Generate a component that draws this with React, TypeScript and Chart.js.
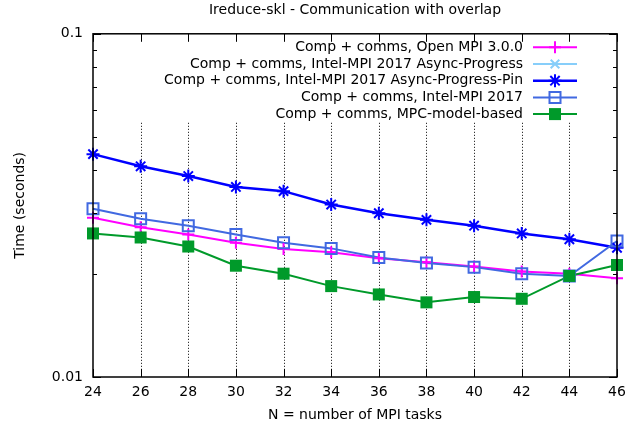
import React, { useEffect, useRef } from "react";
import { Chart, registerables } from "chart.js";

Chart.register(...registerables);

const tasks = [24, 26, 28, 30, 32, 34, 36, 38, 40, 42, 44, 46];
const openMpi = [0.0291, 0.0273, 0.026, 0.0246, 0.0236, 0.0231, 0.0222, 0.0216, 0.021, 0.0203, 0.02, 0.0194];
const intelAsync: number[] = [];
const intelAsyncPin = [0.0446, 0.0411, 0.0385, 0.0358, 0.0348, 0.0318, 0.03, 0.0287, 0.0276, 0.0262, 0.0252, 0.0238];
const intel2017 = [0.0309, 0.0289, 0.0276, 0.026, 0.0246, 0.0237, 0.0223, 0.0215, 0.0209, 0.02, 0.0197, 0.0249];
const mpcModel = [0.0262, 0.0255, 0.024, 0.0211, 0.02, 0.0184, 0.0174, 0.0165, 0.0171, 0.0169, 0.0197, 0.0212];
const seriesLabels = [
  "Comp + comms, Open MPI 3.0.0",
  "Comp + comms, Intel-MPI 2017 Async-Progress",
  "Comp + comms, Intel-MPI 2017 Async-Progress-Pin",
  "Comp + comms, Intel-MPI 2017",
  "Comp + comms, MPC-model-based",
];
const yTickLabels = ["0.01", "0.1"];
const FONT = '"DejaVu Sans", sans-serif';

type Marker = "plus" | "x" | "star" | "openSquare" | "filledSquare";

function drawMarker(ctx: CanvasRenderingContext2D, m: Marker, x: number, y: number, r: number, color: string) {
  ctx.save();
  ctx.strokeStyle = color;
  ctx.fillStyle = color;
  ctx.lineWidth = 2;
  ctx.beginPath();
  const d = r * 0.72;
  if (m === "plus" || m === "star") {
    ctx.moveTo(x - r, y); ctx.lineTo(x + r, y);
    ctx.moveTo(x, y - r); ctx.lineTo(x, y + r);
  }
  if (m === "x" || m === "star") {
    ctx.moveTo(x - d, y - d); ctx.lineTo(x + d, y + d);
    ctx.moveTo(x - d, y + d); ctx.lineTo(x + d, y - d);
  }
  if (m === "openSquare") {
    ctx.rect(x - r, y - r, 2 * r, 2 * r);
  }
  ctx.stroke();
  if (m === "filledSquare") {
    ctx.fillRect(x - r, y - r, 2 * r, 2 * r);
  }
  ctx.restore();
}

const seriesStyle = [
  { color: "#ff00ff", marker: "plus" as Marker, width: 2, r: 6 },
  { color: "#87cefa", marker: "x" as Marker, width: 2, r: 6 },
  { color: "#0000ff", marker: "star" as Marker, width: 2.5, r: 6.5 },
  { color: "#4169e1", marker: "openSquare" as Marker, width: 2, r: 5.5 },
  { color: "#009a2a", marker: "filledSquare" as Marker, width: 2, r: 6 },
];

const gnuplotPlugin = {
  id: "gnuplotDecor",
  beforeDatasetsDraw(chart: any) {
    const { ctx, chartArea } = chart;
    const xs = chart.scales.x;
    ctx.save();
    ctx.strokeStyle = "#000";
    ctx.lineWidth = 1;
    ctx.setLineDash([1, 2]);
    const gridTop = chartArea.top + 89;
    tasks.forEach((t) => {
      if (t === tasks[0] || t === tasks[tasks.length - 1]) return;
      const x = Math.round(xs.getPixelForValue(t)) + 0.5;
      ctx.beginPath();
      ctx.moveTo(x, gridTop);
      ctx.lineTo(x, chartArea.bottom);
      ctx.stroke();
    });
    ctx.restore();
  },
  afterDatasetsDraw(chart: any) {
    const { ctx, chartArea } = chart;
    const xs = chart.scales.x;
    const ys = chart.scales.y;
    const { left, right, top, bottom } = chartArea;
    ctx.save();
    chart.data.datasets.forEach((ds: any, i: number) => {
      const st = seriesStyle[i];
      const meta = chart.getDatasetMeta(i);
      meta.data.forEach((pt: any) => {
        drawMarker(ctx, st.marker, pt.x, pt.y, st.r, st.color);
      });
    });
    ctx.strokeStyle = "#000";
    ctx.lineWidth = 1;
    ctx.beginPath();
    tasks.forEach((t) => {
      const x = Math.round(xs.getPixelForValue(t)) + 0.5;
      ctx.moveTo(x, bottom); ctx.lineTo(x, bottom - 8);
      ctx.moveTo(x, top); ctx.lineTo(x, top + 8);
    });
    for (let k = 1; k <= 10; k++) {
      const v = k * 0.01;
      const y = Math.round(ys.getPixelForValue(v)) + 0.5;
      const len = k === 1 || k === 10 ? 8 : 4;
      ctx.moveTo(left, y); ctx.lineTo(left + len, y);
      ctx.moveTo(right, y); ctx.lineTo(right - len, y);
    }
    ctx.stroke();
    ctx.lineWidth = 1.5;
    ctx.strokeRect(left, top, right - left, bottom - top);
    ctx.font = "14px " + FONT;
    ctx.textAlign = "right";
    ctx.textBaseline = "middle";
    ctx.fillStyle = "#000";
    const textRight = right - 94;
    chart.data.datasets.forEach((ds: any, i: number) => {
      const st = seriesStyle[i];
      const y = top + 13.5 + i * 16.7;
      ctx.fillStyle = "#000";
      ctx.fillText(ds.label, textRight, y);
      ctx.strokeStyle = st.color;
      ctx.lineWidth = st.width;
      ctx.beginPath();
      ctx.moveTo(right - 84, y);
      ctx.lineTo(right - 40, y);
      ctx.stroke();
      drawMarker(ctx, st.marker, right - 62, y, st.r, st.color);
    });
    ctx.restore();
  },
};

export default function App() {
  const ref = useRef<HTMLCanvasElement>(null);
  useEffect(() => {
    if (!ref.current) return;
    const values = [openMpi, intelAsync, intelAsyncPin, intel2017, mpcModel];
    const chart = new Chart(ref.current, {
      type: "line",
      data: {
        datasets: values.map((vals, i) => ({
          label: seriesLabels[i],
          data: vals.map((v, j) => ({ x: tasks[j], y: v })),
          borderColor: seriesStyle[i].color,
          backgroundColor: seriesStyle[i].color,
          borderWidth: seriesStyle[i].width,
          pointRadius: 0,
          pointHoverRadius: 0,
          tension: 0,
          fill: false,
          clip: false as any,
          order: 10 - i,
        })),
      },
      options: {
        responsive: false,
        animation: false,
        devicePixelRatio: 1,
        layout: { padding: { left: 0, right: 26, top: 0, bottom: 0 } },
        plugins: {
          legend: { display: false },
          tooltip: { enabled: false },
          title: {
            display: true,
            fullSize: false,
            text: "Ireduce-skl - Communication with overlap",
            color: "#000",
            font: { family: FONT, size: 14, weight: "normal" },
            padding: { top: 2, bottom: 15 },
          },
        },
        scales: {
          x: {
            type: "linear",
            min: 24,
            max: 46,
            afterFit: (s: any) => { s.height = 53; },
            afterBuildTicks: (s: any) => { s.ticks = tasks.map((t) => ({ value: t })); },
            grid: { display: false, drawTicks: false },
            border: { display: false },
            ticks: {
              color: "#000",
              font: { family: FONT, size: 14 },
              padding: 7,
              maxRotation: 0,
              autoSkip: false,
              callback: (v: any) => String(v),
            },
            title: {
              display: true,
              text: "N = number of MPI tasks",
              color: "#000",
              font: { family: FONT, size: 14 },
              padding: { top: 0, bottom: 6 },
            },
          },
          y: {
            type: "logarithmic",
            min: 0.01,
            max: 0.1,
            afterFit: (s: any) => { s.width = 93; },
            afterBuildTicks: (s: any) => { s.ticks = [{ value: 0.01 }, { value: 0.1 }]; },
            grid: { display: false, drawTicks: false },
            border: { display: false },
            ticks: {
              color: "#000",
              font: { family: FONT, size: 14 },
              padding: 10,
              autoSkip: false,
              callback: (v: any) => (Math.abs(v - 0.1) < 1e-6 ? yTickLabels[1] : Math.abs(v - 0.01) < 1e-7 ? yTickLabels[0] : ""),
            },
            title: {
              display: true,
              text: "Time (seconds)",
              color: "#000",
              font: { family: FONT, size: 14 },
              padding: { top: 12, bottom: 0 },
            },
          },
        },
      },
      plugins: [gnuplotPlugin],
    });
    return () => chart.destroy();
  }, []);
  return (
    <div style={{ position: "fixed", left: 0, top: 0, width: 643, height: 430, background: "#fff" }}>
      <canvas ref={ref} width={643} height={430} style={{ display: "block" }} />
    </div>
  );
}
